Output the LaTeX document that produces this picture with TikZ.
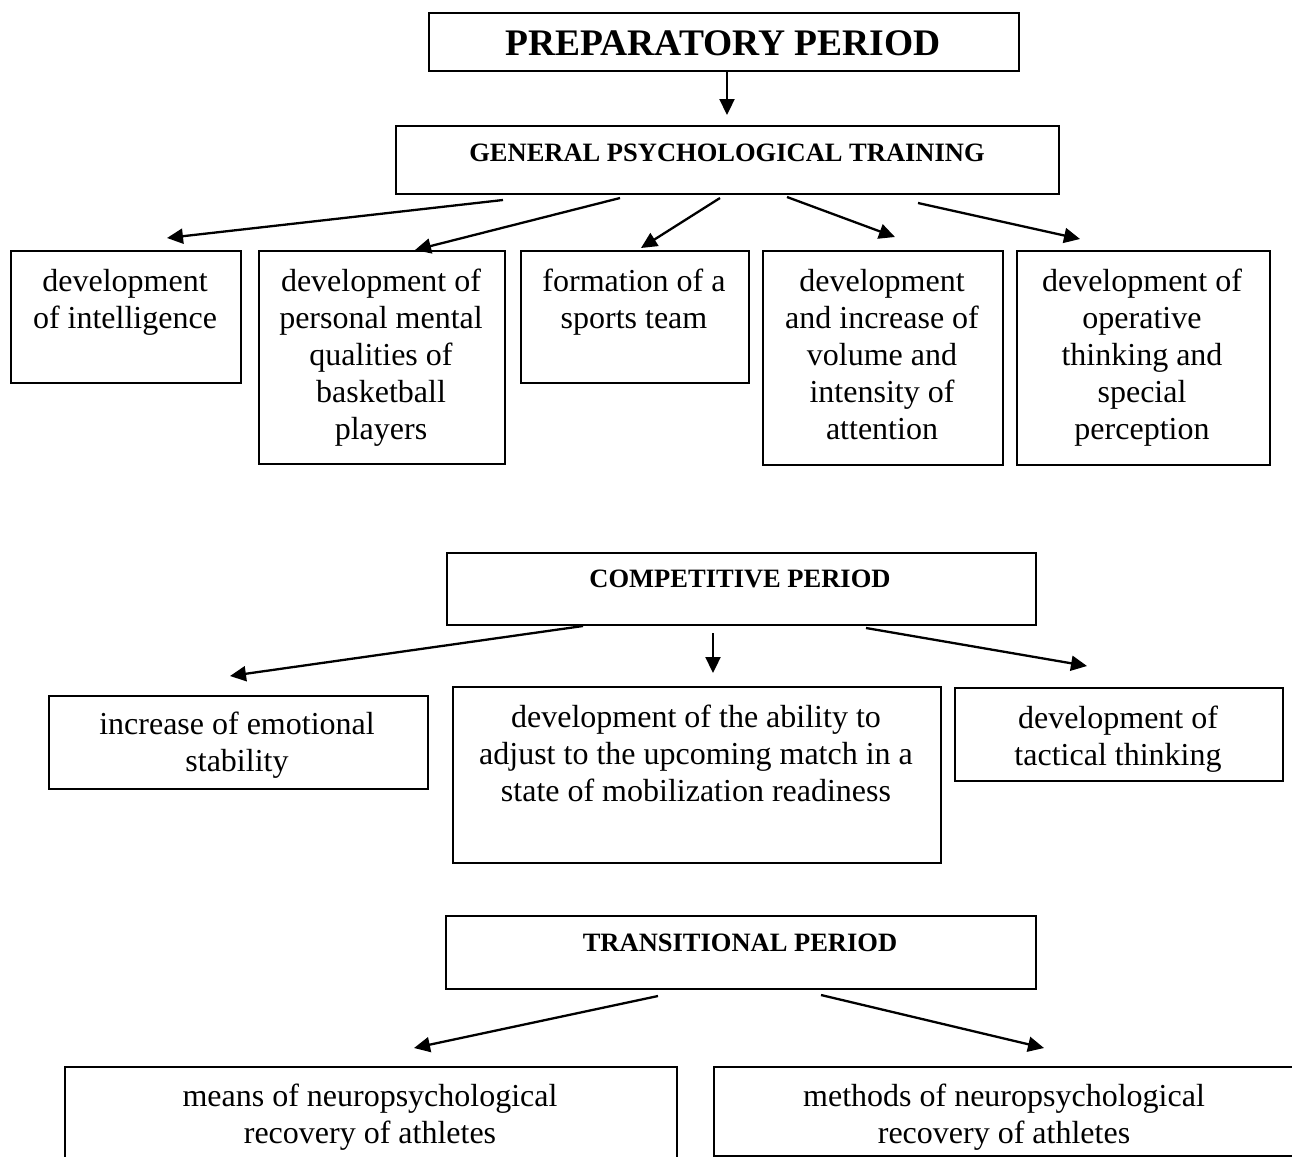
\documentclass[tikz,border=0pt]{standalone}
\usepackage{fontspec}
\setmainfont{Liberation Serif}
\usetikzlibrary{arrows.meta}
\tikzset{
  box/.style={draw, line width=1.7pt, inner sep=0pt, anchor=north west},
  body/.style={font=\fontsize{32}{36.8}\selectfont, align=center, inner sep=0pt, anchor=north},
  head/.style={font=\bfseries\fontsize{26.5}{30}\selectfont, inner sep=0pt, anchor=base},
  bighead/.style={font=\bfseries\fontsize{37.5}{42}\selectfont, inner sep=0pt, anchor=base},
  arr/.style={line width=2.3pt, -{Triangle[length=16pt,width=15pt]}}
}
\newcommand{\firstline}{\rule{0pt}{25.76pt}}
\begin{document}
\begin{tikzpicture}[x=1pt,y=-1pt]
\useasboundingbox (0,0) rectangle (1292,1156);
\fill[white] (0,0) rectangle (1292,1156);

% ---- boxes
\node[box, minimum width=590pt, minimum height=58pt] (prep) at (428,12) {};
\node[box, minimum width=663pt, minimum height=68pt] (gpt) at (395,125) {};
\node[box, minimum width=230pt, minimum height=132pt] (A) at (10,250) {};
\node[box, minimum width=246pt, minimum height=213pt] (B) at (258,250) {};
\node[box, minimum width=228pt, minimum height=132pt] (C) at (520,250) {};
\node[box, minimum width=240pt, minimum height=214pt] (D) at (762,250) {};
\node[box, minimum width=253pt, minimum height=214pt] (E) at (1016,250) {};
\node[box, minimum width=589pt, minimum height=72pt] (comp) at (446,552) {};
\node[box, minimum width=379pt, minimum height=93pt] (F) at (48,695) {};
\node[box, minimum width=488pt, minimum height=176pt] (G) at (452,686) {};
\node[box, minimum width=328pt, minimum height=93pt] (H) at (954,687) {};
\node[box, minimum width=590pt, minimum height=73pt] (trans) at (445,915) {};
\node[box, minimum width=612pt, minimum height=104pt] (I) at (64,1066) {};
\node[box, minimum width=595pt, minimum height=89pt] (J) at (713,1066) {};

% ---- texts
\node[bighead] (tprep) at (723,56) {PREPARATORY PERIOD};
\node[head] (tgpt) at (727,161) {GENERAL PSYCHOLOGICAL TRAINING};
\node[body] (tA) at (125,266) {\firstline development\\of intelligence};
\node[body] (tB) at (381,266) {\firstline development of\\personal mental\\qualities of\\basketball\\players};
\node[body] (tC) at (634,266) {\firstline formation of a\\sports team};
\node[body] (tD) at (882,266) {\firstline development\\and increase of\\volume and\\intensity of\\attention};
\node[body] (tE) at (1142,266) {\firstline development of\\operative\\thinking and\\special\\perception};
\node[head] (tcomp) at (740,587) {COMPETITIVE PERIOD};
\node[body] (tF) at (237,709) {\firstline increase of emotional\\stability};
\node[body] (tG) at (696,702) {\firstline development of the ability to\\adjust to the upcoming match in a\\state of mobilization readiness};
\node[body] (tH) at (1118,703) {\firstline development of\\tactical thinking};
\node[head] (ttrans) at (740,951) {TRANSITIONAL PERIOD};
\node[body] (tI) at (370,1081) {\firstline means of neuropsychological\\recovery of athletes};
\node[body] (tJ) at (1004,1081) {\firstline methods of neuropsychological\\recovery of athletes};

% ---- arrow end points
\coordinate (p0s) at (727,71);   \coordinate (p0e) at (727,115);
\coordinate (g1s) at (503,200);  \coordinate (g1e) at (167,238);
\coordinate (g2s) at (620,198);  \coordinate (g2e) at (415,250);
\coordinate (g3s) at (720,198);  \coordinate (g3e) at (641,248);
\coordinate (g4s) at (787,197);  \coordinate (g4e) at (895,237);
\coordinate (g5s) at (918,203);  \coordinate (g5e) at (1080,239);
\coordinate (c1s) at (583,626);  \coordinate (c1e) at (230,676);
\coordinate (c2s) at (713,633);  \coordinate (c2e) at (713,673);
\coordinate (c3s) at (866,628);  \coordinate (c3e) at (1087,666);
\coordinate (t1s) at (658,996);  \coordinate (t1e) at (414,1048);
\coordinate (t2s) at (821,995);  \coordinate (t2e) at (1044,1048);

% ---- arrows
\draw[arr] (p0s) -- (p0e);
\draw[arr] (g1s) -- (g1e);
\draw[arr] (g2s) -- (g2e);
\draw[arr] (g3s) -- (g3e);
\draw[arr] (g4s) -- (g4e);
\draw[arr] (g5s) -- (g5e);
\draw[arr] (c1s) -- (c1e);
\draw[arr] (c2s) -- (c2e);
\draw[arr] (c3s) -- (c3e);
\draw[arr] (t1s) -- (t1e);
\draw[arr] (t2s) -- (t2e);
\end{tikzpicture}
\end{document}
